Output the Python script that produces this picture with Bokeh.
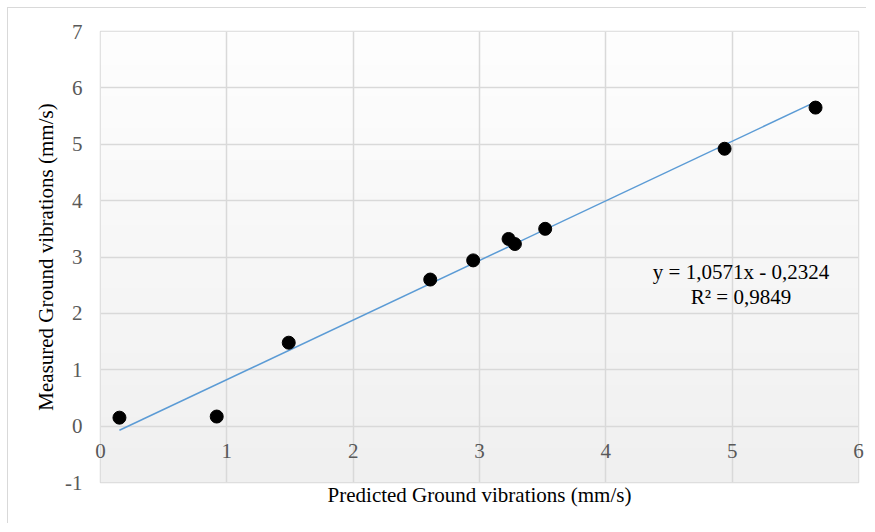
import numpy as np
from bokeh.plotting import figure
from bokeh.models import Range1d, FixedTicker
from bokeh.core.properties import value
from bokeh.embed import file_html
from bokeh.resources import INLINE

# ---- data ----
predicted = [0.15, 0.92, 1.49, 2.61, 2.95, 3.23, 3.28, 3.52, 4.94, 5.66]
measured = [0.15, 0.17, 1.48, 2.60, 2.94, 3.32, 3.23, 3.50, 4.92, 5.65]
slope = 1.0571
intercept = -0.2324
r2 = 0.9849
x_ticks = [0, 1, 2, 3, 4, 5, 6]
y_ticks = [-1, 0, 1, 2, 3, 4, 5, 6, 7]
eq_label = "y = 1,0571x - 0,2324"
r2_label = "R² = 0,9849"
x_title = "Predicted Ground vibrations (mm/s)"
y_title = "Measured Ground vibrations (mm/s)"

FONT = "Liberation Serif"
GRID = "#d9d9d9"

p = figure(width=859, height=516, output_backend="svg", toolbar_location=None,
           x_range=Range1d(0, 6), y_range=Range1d(-1, 7),
           min_border_left=92, min_border_right=9, min_border_top=23, min_border_bottom=42)
p.background_fill_color = "white"
p.border_fill_color = "white"
p.outline_line_color = GRID
p.outline_line_width = 1.5

# gradient plot background
n = 200
t = np.linspace(0, 1, n)  # 0 bottom -> 1 top
img = np.empty((n, 1), dtype=np.uint32)
view = img.view(dtype=np.uint8).reshape((n, 1, 4))
c = (240 + (254 - 240) * t).astype(np.uint8)
view[:, 0, 0] = c
view[:, 0, 1] = c
view[:, 0, 2] = c
view[:, 0, 3] = 255
p.image_rgba(image=[img], x=0, y=-1, dw=6, dh=8, level="image")

# grid
p.xgrid.ticker = FixedTicker(ticks=x_ticks)
p.ygrid.ticker = FixedTicker(ticks=y_ticks)
p.grid.grid_line_color = GRID
p.grid.grid_line_width = 1.5
p.grid.level = "underlay"

# y axis
p.yaxis.ticker = FixedTicker(ticks=y_ticks)
p.yaxis.major_label_overrides = {v: str(v) for v in y_ticks}
p.yaxis.axis_line_color = None
p.yaxis.major_tick_line_color = None
p.yaxis.minor_tick_line_color = None
p.yaxis.major_tick_out = 0
p.yaxis.major_label_text_font = FONT
p.yaxis.major_label_text_font_size = "21px"
p.yaxis.major_label_text_color = "#595959"
p.yaxis.major_label_standoff = 18
p.yaxis.axis_label = y_title
p.yaxis.axis_label_text_font = FONT
p.yaxis.axis_label_text_font_size = "21px"
p.yaxis.axis_label_text_font_style = "normal"
p.yaxis.axis_label_text_color = "black"
p.yaxis.axis_label_standoff = 4

# x axis: tick labels pulled up to sit just below y = 0
p.xaxis.ticker = FixedTicker(ticks=x_ticks)
p.xaxis.axis_line_color = None
p.xaxis.major_tick_line_color = None
p.xaxis.minor_tick_line_color = None
p.xaxis.major_tick_out = 0
p.xaxis.major_label_text_font = FONT
p.xaxis.major_label_text_font_size = "21px"
p.xaxis.major_label_text_color = "#595959"
p.xaxis.major_label_standoff = -39
p.xaxis.axis_label = x_title
p.xaxis.axis_label_text_font = FONT
p.xaxis.axis_label_text_font_size = "21px"
p.xaxis.axis_label_text_font_style = "normal"
p.xaxis.axis_label_text_color = "black"
p.xaxis.axis_label_standoff = 22

# trendline
xs = [min(predicted), max(predicted)]
ys = [slope * v + intercept for v in xs]
p.line(xs, ys, line_color="#5b9bd5", line_width=1.5)

# points
p.scatter(predicted, measured, size=13, fill_color="black", line_color="black")

# equation
p.text(x=[5.07, 5.07], y=[2.73, 2.29], text=[eq_label, r2_label], text_font=value(FONT),
       text_font_size="21px", text_color="black", text_align="center", text_baseline="middle")

p.styles = {"margin-left": "7px", "margin-top": "7px",
            "border-left": "1px solid #d9d9d9", "border-top": "1px solid #d9d9d9"}

open("out.html", "w").write(file_html(p, INLINE))
